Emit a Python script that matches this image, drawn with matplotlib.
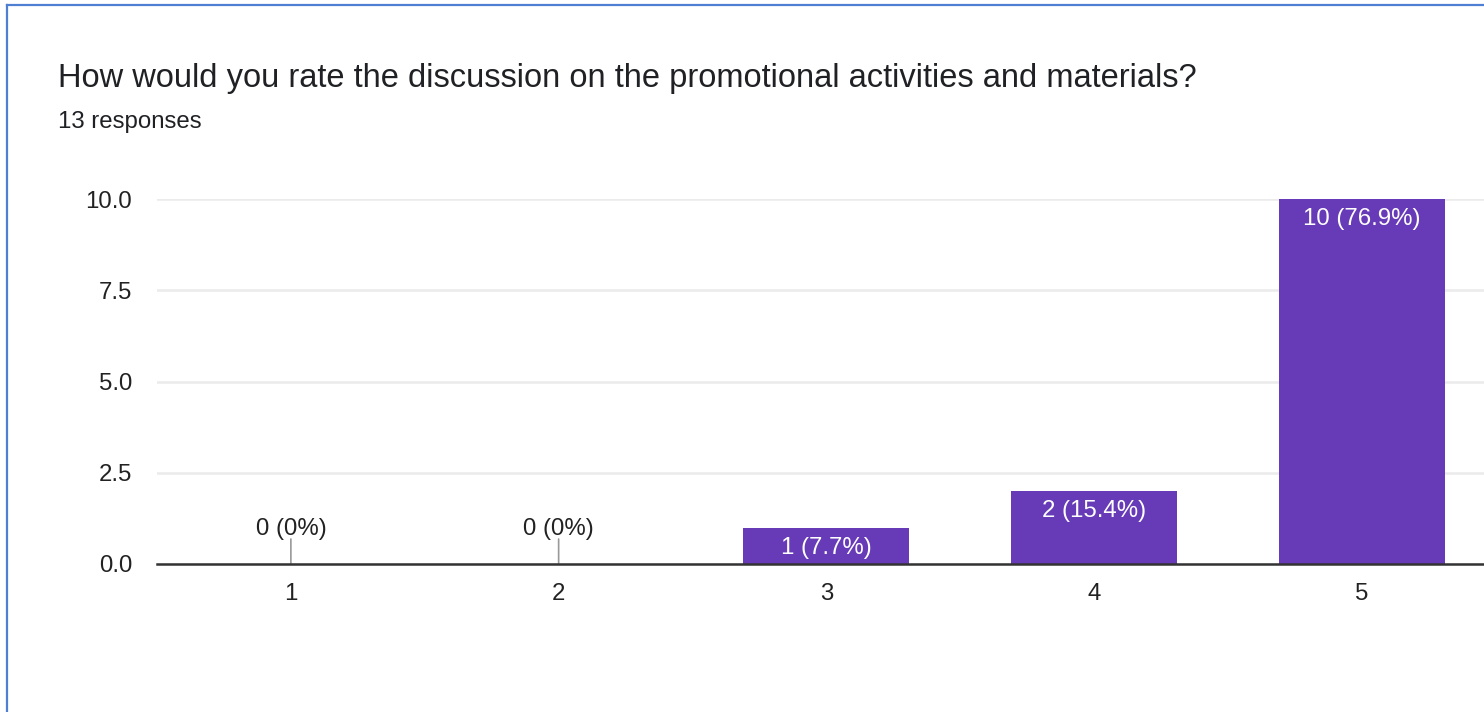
import matplotlib.pyplot as plt
from matplotlib.lines import Line2D

# chart data
ratings = ['1', '2', '3', '4', '5']
counts = [0, 0, 1, 2, 10]
percents = ['0%', '0%', '7.7%', '15.4%', '76.9%']
y_ticks = [0.0, 2.5, 5.0, 7.5, 10.0]

title = 'How would you rate the discussion on the promotional activities and materials?'
subtitle = '13 responses'

plt.rcParams['font.family'] = ['Liberation Sans', 'DejaVu Sans']

W, H = 1484, 712
fig = plt.figure(figsize=(W / 100, H / 100), dpi=100)
fig.patch.set_facecolor('white')

# blue frame on the left and top edges
border = '#4f7fd3'
fig.add_artist(Line2D([7 / W, 7 / W], [0, 1 - 5 / H], color=border, lw=1.6))
fig.add_artist(Line2D([7 / W, 1], [1 - 5 / H, 1 - 5 / H], color=border, lw=1.6))

fig.text(58 / W, 1 - 87 / H, title, fontsize=23.5, color='#202124', va='baseline')
fig.text(58 / W, 1 - 128 / H, subtitle, fontsize=17.3, color='#202124', va='baseline')

ax = fig.add_axes([157 / W, 1 - 564 / H, 1 - 157 / W, (564 - 199) / H])
x = list(range(1, len(ratings) + 1))
ax.bar(x, counts, width=0.62, color='#673ab7', zorder=3)

ax.set_xlim(0.5, 5.456)
ax.set_ylim(0, 10)
ax.set_xticks(x)
ax.set_xticklabels(ratings)
ax.set_yticks(y_ticks)
ax.set_yticklabels([f'{t:.1f}' for t in y_ticks])
ax.tick_params(axis='both', length=0, labelsize=17.3, colors='#222222')
ax.tick_params(axis='x', pad=13.5)
ax.tick_params(axis='y', pad=18)
ax.grid(axis='y', color='#ebebeb', lw=1.8, zorder=0)
ax.set_axisbelow(True)
for side in ['left', 'right', 'top']:
    ax.spines[side].set_visible(False)
ax.spines['bottom'].set_color('#333333')
ax.spines['bottom'].set_linewidth(1.8)
ax.spines['bottom'].set_zorder(4)

for xi, c, p in zip(x, counts, percents):
    label = f'{c} ({p})'
    if c == 0:
        ax.annotate('', xy=(xi, 0), xytext=(0, 18), textcoords='offset points',
                    arrowprops=dict(arrowstyle='-', color='#999999', lw=1.2,
                                    shrinkA=0, shrinkB=0))
        ax.annotate(label, xy=(xi, 0), xytext=(0, 17.5), textcoords='offset points',
                    ha='center', va='bottom', fontsize=17.3, color='#222222')
    else:
        ax.annotate(label, xy=(xi, c), xytext=(0, -6.5), textcoords='offset points',
                    ha='center', va='top', fontsize=17.3, color='white', zorder=5)

fig.savefig('out.png', dpi=100)
